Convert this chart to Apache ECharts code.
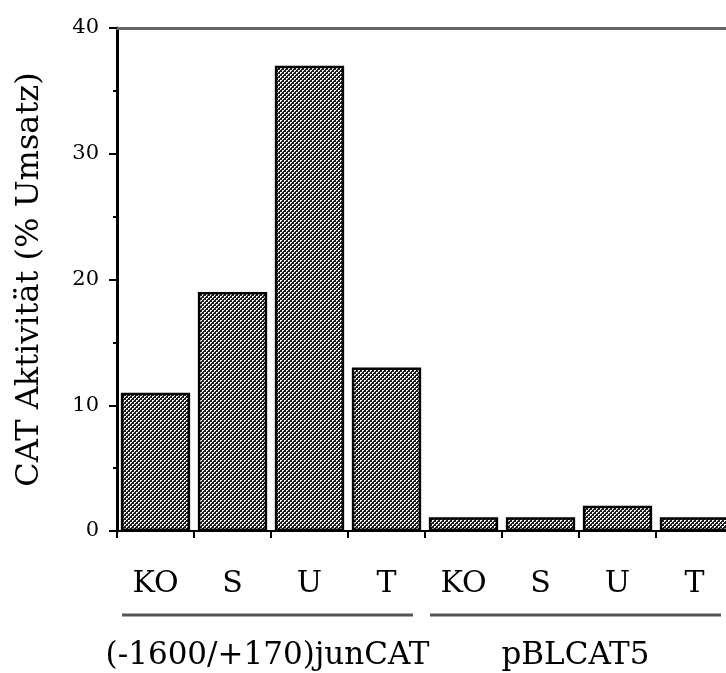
<!DOCTYPE html>
<html>
<head>
<meta charset="utf-8">
<script src="https://cdn.jsdelivr.net/npm/echarts@6/dist/echarts.min.js"></script>
<style>
  html, body { margin: 0; padding: 0; background: #fff; }
  #chart { width: 726px; height: 673px; }
</style>
</head>
<body>
<div id="chart"></div>
<script>
// Kategorien und Werte (CAT Aktivität, % Umsatz)
const categories = ['KO', 'S', 'U', 'T', 'KO', 'S', 'U', 'T']
const activity = [11, 19, 37, 13, 1.1, 1.1, 2, 1.1]
const groups = [
  { name: '(-1600/+170)junCAT', from: 0, to: 3 },
  { name: 'pBLCAT5', from: 4, to: 7 }
]
const yTicks = { min: 0, max: 40, interval: 10 }

const serif = '"DejaVu Serif", "Liberation Serif", serif'

// Raster-Füllung wie im Original (gepunktetes Grau)
function makePattern () {
  let c = document.createElement('canvas')
  c.width = 4
  c.height = 4
  let ctx = c.getContext('2d')
  ctx.fillStyle = '#1e1e1e'
  ctx.fillRect(0, 0, 4, 4)
  ctx.fillStyle = '#ffffff'
  ctx.fillRect(0, 0, 2, 1)
  ctx.fillRect(0, 1, 1, 1)
  ctx.fillRect(2, 2, 2, 1)
  ctx.fillRect(2, 3, 1, 1)
  return c
}

let chart = echarts.init(document.getElementById('chart'))
let options = {
  animation: false,
  grid: { left: 117, top: 28, bottom: 142, right: -7, containLabel: false, outerBoundsMode: 'none' },
  xAxis: [
    {
      type: 'category',
      data: categories,
      position: 'bottom',
      axisLine: { lineStyle: { color: '#000', width: 2 } },
      axisTick: { show: true, alignWithLabel: false, length: 7, lineStyle: { color: '#000', width: 2 } },
      axisLabel: { color: '#000', fontFamily: serif, fontSize: 30, margin: 38 }
    },
    {
      type: 'category',
      data: categories,
      position: 'top',
      axisLine: { show: true, lineStyle: { color: '#666', width: 3 } },
      axisTick: { show: false },
      axisLabel: { show: false }
    }
  ],
  yAxis: {
    type: 'value',
    min: yTicks.min,
    max: yTicks.max,
    interval: yTicks.interval,
    name: 'CAT Aktivität (% Umsatz)',
    nameLocation: 'middle',
    nameGap: 71,
    nameTextStyle: { color: '#000', fontFamily: serif, fontSize: 32 },
    axisLine: { show: true, lineStyle: { color: '#000', width: 3 } },
    axisTick: { show: true, length: 8, lineStyle: { color: '#000', width: 2 } },
    minorTick: { show: true, splitNumber: 2, length: 4, lineStyle: { color: '#000', width: 2 } },
    axisLabel: { color: '#000', fontFamily: serif, fontSize: 21, margin: 18 },
    splitLine: { show: false }
  },
  series: [
    {
      type: 'bar',
      data: activity,
      barCategoryGap: '10%',
      itemStyle: {
        color: { image: makePattern(), repeat: 'repeat' },
        borderColor: '#000',
        borderWidth: 2.5
      }
    }
  ]
}
chart.setOption(options)

// Gruppen-Unterstreichung und Beschriftung
let step = chart.convertToPixel({ xAxisIndex: 0 }, 1) - chart.convertToPixel({ xAxisIndex: 0 }, 0)
let graphics = []
groups.forEach(g => {
  let x0 = chart.convertToPixel({ xAxisIndex: 0 }, g.from) - step / 2 + 5
  let x1 = chart.convertToPixel({ xAxisIndex: 0 }, g.to) + step / 2 - 12
  graphics.push({
    type: 'line',
    shape: { x1: x0, y1: 615, x2: x1, y2: 615 },
    style: { stroke: '#555', lineWidth: 3 }
  })
  graphics.push({
    type: 'text',
    x: (x0 + x1) / 2,
    y: 656,
    style: { text: g.name, fill: '#000', font: '31px ' + serif, align: 'center', verticalAlign: 'middle' }
  })
})
chart.setOption({ graphic: graphics })
</script>
</body>
</html>
